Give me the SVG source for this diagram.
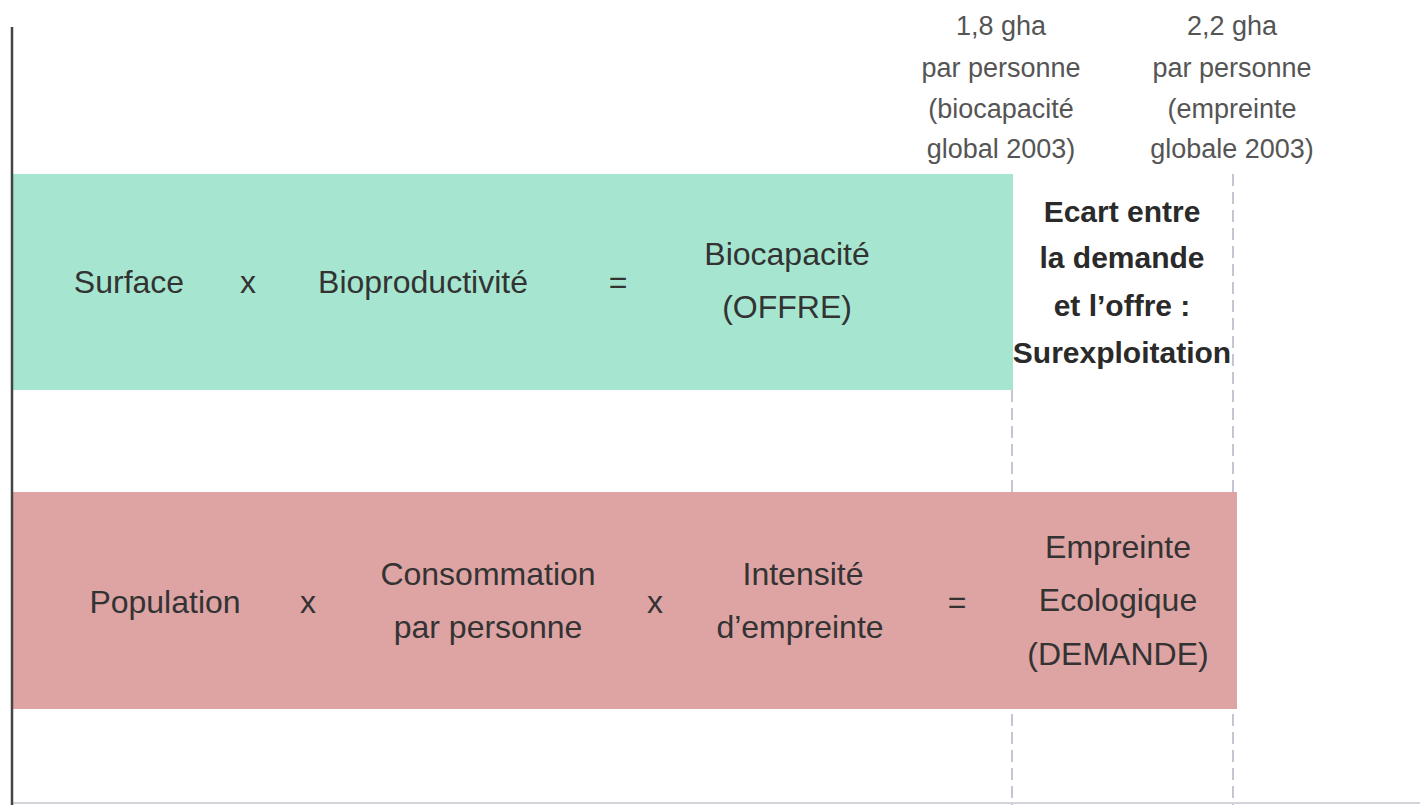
<svg xmlns="http://www.w3.org/2000/svg" width="1420" height="805" viewBox="0 0 1420 805">
<style>
text{font-family:"Liberation Sans",Arial,sans-serif;text-anchor:middle}
.m{font-size:32px;fill:#333}
.b{font-size:30px;font-weight:bold;fill:#2a2a2a}
.s{font-size:27px;fill:#555}
.dash{stroke:#b4b4c4;stroke-width:1.5;stroke-dasharray:12 6;fill:none}
</style>
<rect width="1420" height="805" fill="#fff"/>
<g id="guides">
<line class="dash" x1="1012" y1="390" x2="1012" y2="805"/>
<line class="dash" x1="1233" y1="174" x2="1233" y2="805"/>
<line x1="12" y1="803" x2="1420" y2="803" stroke="#c4c4cc" stroke-width="1.5"/>
</g>
<g id="offre">
<rect x="12" y="174" width="1001" height="216" fill="#a6e6d0"/>
<text class="m" x="129" y="293">Surface</text>
<text class="m" x="248" y="293">x</text>
<text class="m" x="423" y="293">Bioproductivité</text>
<text class="m" x="618" y="293">=</text>
<text class="m" x="787" y="265">Biocapacité</text>
<text class="m" x="787" y="318">(OFFRE)</text>
</g>
<g id="demande">
<rect x="12" y="492" width="1225" height="217" fill="#dea4a4"/>
<text class="m" x="165" y="613">Population</text>
<text class="m" x="308" y="613">x</text>
<text class="m" x="488" y="585">Consommation</text>
<text class="m" x="488" y="638">par personne</text>
<text class="m" x="655" y="613">x</text>
<text class="m" x="803" y="585">Intensité</text>
<text class="m" x="800" y="638">d’empreinte</text>
<text class="m" x="957" y="613">=</text>
<text class="m" x="1118" y="558">Empreinte</text>
<text class="m" x="1118" y="611">Ecologique</text>
<text class="m" x="1118" y="665">(DEMANDE)</text>
</g>
<g id="ecart">
<text class="b" x="1122" y="222">Ecart entre</text>
<text class="b" x="1122" y="268">la demande</text>
<text class="b" x="1122" y="316">et l’offre :</text>
<text class="b" x="1122" y="363">Surexploitation</text>
</g>
<g id="biocap-label">
<text class="s" x="1001" y="35">1,8 gha</text>
<text class="s" x="1001" y="77">par personne</text>
<text class="s" x="1001" y="118">(biocapacité</text>
<text class="s" x="1001" y="158">global 2003)</text>
</g>
<g id="empreinte-label">
<text class="s" x="1232" y="35">2,2 gha</text>
<text class="s" x="1232" y="77">par personne</text>
<text class="s" x="1232" y="118">(empreinte</text>
<text class="s" x="1232" y="158">globale 2003)</text>
</g>
<g id="axis">
<line x1="12" y1="27" x2="12" y2="805" stroke="#444" stroke-width="2.5"/>
</g>
</svg>
